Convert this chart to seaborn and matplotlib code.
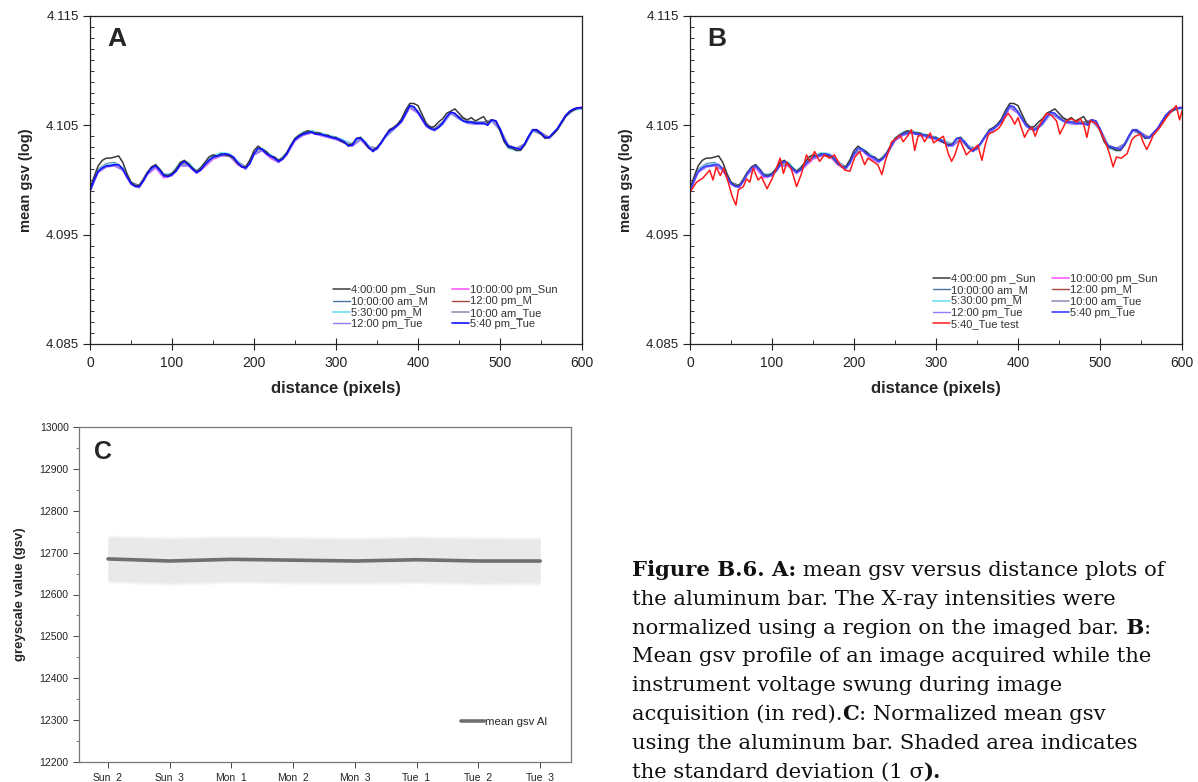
import numpy as np
import pandas as pd
import matplotlib
matplotlib.use("Agg")
import matplotlib.pyplot as plt
from matplotlib.ticker import MultipleLocator
import seaborn as sns

# ---------------- data ----------------
x5 = list(range(0, 601, 5))
x10 = list(range(0, 601, 10))

blue_540_tue = [4.0990, 4.1000, 4.1008, 4.1011, 4.1013, 4.1013, 4.1014, 4.1014, 4.1010, 4.1003,
                4.0997, 4.0994, 4.0994, 4.0999, 4.1006, 4.1011, 4.1013, 4.1009, 4.1004, 4.1003,
                4.1005, 4.1008, 4.1014, 4.1017, 4.1014, 4.1010, 4.1007, 4.1009, 4.1014, 4.1018,
                4.1021, 4.1022, 4.1023, 4.1024, 4.1023, 4.1021, 4.1016, 4.1012, 4.1011, 4.1015,
                4.1024, 4.1029, 4.1028, 4.1024, 4.1022, 4.1020, 4.1017, 4.1019, 4.1024, 4.1031,
                4.1037, 4.1040, 4.1042, 4.1043, 4.1044, 4.1042, 4.1042, 4.1041, 4.1040, 4.1039,
                4.1038, 4.1037, 4.1035, 4.1031, 4.1032, 4.1038, 4.1038, 4.1035, 4.1030, 4.1026,
                4.1029, 4.1034, 4.1040, 4.1045, 4.1047, 4.1050, 4.1054, 4.1061, 4.1068, 4.1067,
                4.1062, 4.1056, 4.1050, 4.1047, 4.1046, 4.1048, 4.1052, 4.1058, 4.1062, 4.1061,
                4.1057, 4.1054, 4.1053, 4.1053, 4.1052, 4.1052, 4.1052, 4.1050, 4.1055, 4.1054,
                4.1047, 4.1037, 4.1031, 4.1030, 4.1029, 4.1028, 4.1033, 4.1040, 4.1046, 4.1046,
                4.1043, 4.1039, 4.1039, 4.1043, 4.1047, 4.1053, 4.1059, 4.1063, 4.1065, 4.1066,
                4.1066]

black_400_sun = [4.0992, 4.1003, 4.1013, 4.1018, 4.1020, 4.1020, 4.1021, 4.1022, 4.1016, 4.1006,
                 4.0998, 4.0995, 4.0995, 4.1000, 4.1007, 4.1012, 4.1014, 4.1010, 4.1005, 4.1004,
                 4.1006, 4.1010, 4.1016, 4.1018, 4.1015, 4.1011, 4.1008, 4.1011, 4.1016, 4.1021,
                 4.1023, 4.1022, 4.1024, 4.1023, 4.1022, 4.1020, 4.1015, 4.1012, 4.1012, 4.1018,
                 4.1027, 4.1031, 4.1028, 4.1026, 4.1022, 4.1021, 4.1018, 4.1020, 4.1025, 4.1032,
                 4.1038, 4.1041, 4.1043, 4.1045, 4.1044, 4.1043, 4.1043, 4.1041, 4.1041, 4.1039,
                 4.1039, 4.1036, 4.1034, 4.1032, 4.1033, 4.1038, 4.1039, 4.1034, 4.1029, 4.1027,
                 4.1030, 4.1034, 4.1040, 4.1046, 4.1048, 4.1051, 4.1056, 4.1064, 4.1070, 4.1070,
                 4.1068, 4.1060, 4.1052, 4.1048, 4.1049, 4.1053, 4.1056, 4.1061, 4.1063, 4.1065,
                 4.1061, 4.1057, 4.1055, 4.1057, 4.1054, 4.1056, 4.1058, 4.1052, 4.1055, 4.1054,
                 4.1045, 4.1035, 4.1030, 4.1029, 4.1027, 4.1027, 4.1032, 4.1040, 4.1046, 4.1045,
                 4.1042, 4.1038, 4.1039, 4.1042, 4.1046, 4.1052, 4.1058, 4.1062, 4.1064, 4.1066,
                 4.1066]

magenta_1000_sun = [4.0991, 4.1007, 4.1012, 4.1013, 4.1009, 4.0996, 4.0993, 4.1005, 4.1011, 4.1002,
                    4.1004, 4.1013, 4.1013, 4.1006, 4.1012, 4.1019, 4.1022, 4.1022, 4.1014, 4.1010,
                    4.1023, 4.1027, 4.1020, 4.1016, 4.1023, 4.1036, 4.1041, 4.1043, 4.1041, 4.1039,
                    4.1037, 4.1034, 4.1031, 4.1037, 4.1029, 4.1028, 4.1039, 4.1046, 4.1053, 4.1066,
                    4.1061, 4.1049, 4.1045, 4.1051, 4.1061, 4.1056, 4.1052, 4.1051, 4.1051, 4.1054,
                    4.1046, 4.1030, 4.1028, 4.1032, 4.1045, 4.1042, 4.1038, 4.1046, 4.1058, 4.1065,
                    4.1067]

steel_1000_m = [4.0992, 4.1010, 4.1015, 4.1016, 4.1011, 4.0998, 4.0995, 4.1007, 4.1013, 4.1005,
                4.1006, 4.1015, 4.1015, 4.1008, 4.1015, 4.1022, 4.1024, 4.1023, 4.1017, 4.1012,
                4.1025, 4.1028, 4.1023, 4.1018, 4.1025, 4.1038, 4.1043, 4.1045, 4.1043, 4.1041,
                4.1039, 4.1036, 4.1033, 4.1038, 4.1031, 4.1029, 4.1040, 4.1047, 4.1055, 4.1068,
                4.1063, 4.1051, 4.1047, 4.1053, 4.1062, 4.1058, 4.1054, 4.1053, 4.1053, 4.1055,
                4.1047, 4.1032, 4.1029, 4.1033, 4.1046, 4.1043, 4.1039, 4.1047, 4.1059, 4.1065,
                4.1066]

brown_1200_m = [4.0992, 4.1009, 4.1014, 4.1015, 4.1010, 4.0997, 4.0995, 4.1007, 4.1014, 4.1004,
                4.1005, 4.1015, 4.1015, 4.1007, 4.1014, 4.1021, 4.1023, 4.1023, 4.1016, 4.1011,
                4.1024, 4.1028, 4.1022, 4.1017, 4.1024, 4.1037, 4.1042, 4.1044, 4.1042, 4.1040,
                4.1038, 4.1035, 4.1032, 4.1038, 4.1030, 4.1029, 4.1040, 4.1047, 4.1054, 4.1067,
                4.1062, 4.1050, 4.1046, 4.1052, 4.1062, 4.1057, 4.1053, 4.1052, 4.1052, 4.1055,
                4.1046, 4.1030, 4.1028, 4.1032, 4.1046, 4.1043, 4.1039, 4.1047, 4.1059, 4.1065,
                4.1066]

cyan_530_m = [4.0991, 4.1009, 4.1014, 4.1015, 4.1011, 4.0997, 4.0994, 4.1006, 4.1014, 4.1005,
              4.1006, 4.1016, 4.1016, 4.1008, 4.1015, 4.1022, 4.1025, 4.1024, 4.1017, 4.1010,
              4.1024, 4.1029, 4.1023, 4.1018, 4.1024, 4.1038, 4.1044, 4.1045, 4.1043, 4.1041,
              4.1039, 4.1036, 4.1033, 4.1039, 4.1031, 4.1028, 4.1039, 4.1046, 4.1054, 4.1067,
              4.1062, 4.1050, 4.1045, 4.1051, 4.1061, 4.1056, 4.1052, 4.1052, 4.1051, 4.1054,
              4.1046, 4.1029, 4.1027, 4.1032, 4.1045, 4.1042, 4.1038, 4.1046, 4.1058, 4.1064,
              4.1065]

gray_1000_tue = [4.0990, 4.1008, 4.1013, 4.1014, 4.1010, 4.0997, 4.0994, 4.1006, 4.1012, 4.1004,
                 4.1005, 4.1014, 4.1014, 4.1007, 4.1013, 4.1020, 4.1023, 4.1022, 4.1016, 4.1011,
                 4.1024, 4.1028, 4.1022, 4.1017, 4.1024, 4.1037, 4.1042, 4.1044, 4.1042, 4.1040,
                 4.1038, 4.1035, 4.1032, 4.1038, 4.1030, 4.1029, 4.1040, 4.1047, 4.1054, 4.1067,
                 4.1062, 4.1050, 4.1046, 4.1052, 4.1061, 4.1057, 4.1053, 4.1052, 4.1052, 4.1055,
                 4.1047, 4.1031, 4.1029, 4.1033, 4.1046, 4.1043, 4.1039, 4.1047, 4.1059, 4.1065,
                 4.1066]

violet_1200_tue = [4.0989, 4.1007, 4.1012, 4.1013, 4.1009, 4.0996, 4.0993, 4.1005, 4.1012, 4.1003,
                   4.1004, 4.1013, 4.1013, 4.1006, 4.1013, 4.1020, 4.1022, 4.1022, 4.1015, 4.1010,
                   4.1023, 4.1027, 4.1021, 4.1016, 4.1023, 4.1036, 4.1041, 4.1043, 4.1041, 4.1039,
                   4.1037, 4.1034, 4.1031, 4.1037, 4.1029, 4.1028, 4.1039, 4.1046, 4.1053, 4.1067,
                   4.1061, 4.1049, 4.1045, 4.1051, 4.1061, 4.1056, 4.1052, 4.1051, 4.1051, 4.1054,
                   4.1046, 4.1030, 4.1028, 4.1032, 4.1045, 4.1042, 4.1038, 4.1046, 4.1058, 4.1064,
                   4.1066]

red_x = [0, 8, 16, 24, 28, 32, 37, 41, 47, 51, 56, 59, 65, 69, 73, 77, 83, 87, 94, 100,
         106, 110, 114, 118, 124, 130, 136, 142, 146, 152, 158, 164, 170, 176, 183, 189, 195, 201, 207, 213,
         217, 223, 229, 234, 238, 246, 252, 256, 260, 266, 270, 274, 278, 282, 286, 293, 297, 303, 309, 315,
         319, 323, 329, 333, 337, 341, 347, 351, 356, 360, 364, 370, 376, 380, 384, 388, 392, 396, 400, 404,
         408, 412, 417, 421, 425, 429, 435, 441, 447, 451, 455, 459, 465, 472, 476, 480, 484, 488, 492, 496,
         502, 508, 512, 516, 520, 526, 533, 539, 543, 549, 553, 557, 561, 565, 573, 581, 587, 593, 597, 600]
red_test = [4.0989, 4.0998, 4.1002, 4.1009, 4.1000, 4.1012, 4.1004, 4.1011, 4.0997, 4.0986,
            4.0977, 4.0991, 4.0994, 4.1001, 4.0998, 4.1011, 4.1000, 4.1003, 4.0992, 4.1001,
            4.1012, 4.1020, 4.1006, 4.1016, 4.1009, 4.0994, 4.1006, 4.1023, 4.1017, 4.1026,
            4.1017, 4.1023, 4.1020, 4.1023, 4.1014, 4.1009, 4.1008, 4.1021, 4.1026, 4.1014,
            4.1020, 4.1017, 4.1014, 4.1005, 4.1017, 4.1035, 4.1038, 4.1041, 4.1035, 4.1041,
            4.1046, 4.1027, 4.1040, 4.1041, 4.1035, 4.1043, 4.1034, 4.1037, 4.1040, 4.1024,
            4.1017, 4.1023, 4.1037, 4.1030, 4.1023, 4.1026, 4.1029, 4.1032, 4.1018, 4.1032,
            4.1042, 4.1044, 4.1047, 4.1051, 4.1057, 4.1061, 4.1057, 4.1051, 4.1057, 4.1048,
            4.1039, 4.1045, 4.1048, 4.1040, 4.1048, 4.1054, 4.1061, 4.1059, 4.1054, 4.1042,
            4.1048, 4.1054, 4.1056, 4.1053, 4.1056, 4.1051, 4.1039, 4.1054, 4.1053, 4.1051,
            4.1042, 4.1032, 4.1023, 4.1012, 4.1021, 4.1020, 4.1024, 4.1037, 4.1040, 4.1042,
            4.1034, 4.1028, 4.1034, 4.1041, 4.1048, 4.1057, 4.1063, 4.1068, 4.1055, 4.1063]

days = ["Sun_2", "Sun_3", "Mon_1", "Mon_2", "Mon_3", "Tue_1", "Tue_2", "Tue_3"]
mean_gsv_al = [12685, 12680, 12684, 12682, 12680, 12683, 12680, 12680]
std_gsv_al = [51, 52, 51, 51, 51, 51, 52, 51]

# ---------------- style ----------------
sns.set_style("ticks")
plt.rcParams["font.family"] = ["Liberation Sans", "DejaVu Sans"]

W, H = 1198, 782
fig = plt.figure(figsize=(W / 100, H / 100), dpi=100)


def rect(l, t, r, b):
    return [l / W, 1 - b / H, (r - l) / W, (b - t) / H]


series_A = [
    ("4:00:00 pm _Sun", x5, black_400_sun, "#3a3a3a", 1.1),
    ("10:00:00 am_M", x10, steel_1000_m, "#4d74a8", 1.0),
    ("5:30:00 pm_M", x10, cyan_530_m, "#7ee6f2", 1.4),
    ("12:00 pm_Tue", x10, violet_1200_tue, "#8c7dff", 1.0),
    ("10:00:00 pm_Sun", x10, magenta_1000_sun, "#ff5cff", 1.2),
    ("12:00 pm_M", x10, brown_1200_m, "#a8443e", 1.0),
    ("10:00 am_Tue", x10, gray_1000_tue, "#9d92b8", 1.2),
    ("5:40 pm_Tue", x5, blue_540_tue, "#1010ff", 1.2),
]
draw_order = [4, 1, 5, 2, 6, 3, 0, 7]


def profile_axes(ax, letter, extra=None):
    handles = {}
    for i in draw_order:
        lab, xs, ys, col, lw = series_A[i]
        color = col
        if extra is not None and lab == "5:40 pm_Tue":
            color = "#3f3fff"
        sns.lineplot(x=xs, y=ys, ax=ax, color=color, lw=lw, label=lab, legend=False)
        handles[lab] = ax.get_lines()[-1]
    labels = [s[0] for s in series_A]
    hl = [handles[l] for l in labels]
    if extra is not None:
        lab, xs, ys, col, lw = extra
        sns.lineplot(x=xs, y=ys, ax=ax, color=col, lw=lw, label=lab, legend=False)
        hl = hl[:4] + [ax.get_lines()[-1]] + hl[4:]
        labels = labels[:4] + [lab] + labels[4:]
    ax.set_xlim(0, 600)
    ax.set_ylim(4.085, 4.115)
    ax.set_yticks([4.085, 4.095, 4.105, 4.115])
    ax.set_yticklabels(["4.085", "4.095", "4.105", "4.115"])
    ax.yaxis.set_minor_locator(MultipleLocator(0.001))
    ax.set_xticks([0, 100, 200, 300, 400, 500, 600])
    ax.xaxis.set_minor_locator(MultipleLocator(50))
    ax.tick_params(axis="y", which="major", direction="out", length=5, width=0.8,
                   labelsize=9.5, colors="#222222", pad=3)
    ax.tick_params(axis="y", which="minor", direction="in", length=3, width=0.7, colors="#333333")
    ax.tick_params(axis="x", which="major", direction="inout", length=9, width=0.8,
                   labelsize=10, colors="#222222", pad=4)
    ax.tick_params(axis="x", which="minor", direction="in", length=3, width=0.7, colors="#333333")
    for s in ax.spines.values():
        s.set_visible(True)
        s.set_color("#222222")
        s.set_linewidth(0.9)
    ax.set_xlabel("distance (pixels)", fontsize=12, fontweight="bold", labelpad=8)
    ax.set_ylabel("mean gsv (log)", fontsize=10.5, fontweight="bold", labelpad=9)
    ax.text(0.035, 0.93, letter, transform=ax.transAxes, fontsize=19, fontweight="bold",
            va="center", ha="left")
    leg = ax.legend(hl, labels, ncol=2, loc="lower right", bbox_to_anchor=(0.965, 0.025),
                    frameon=False, fontsize=8, handlelength=1.55, handletextpad=0.1,
                    columnspacing=1.5, labelspacing=0.12, borderaxespad=0.2)
    for t in leg.get_texts():
        t.set_color("#333333")
    return ax


axA = fig.add_axes(rect(90, 16, 582, 344))
profile_axes(axA, "A")

axB = fig.add_axes(rect(690, 16, 1182, 344))
profile_axes(axB, "B", extra=("5:40_Tue test", red_x, red_test, "#ff1a1a", 1.1))

# ---------------- panel C ----------------
axC = fig.add_axes(rect(79, 427, 571, 762))
pos = np.arange(len(days))
m = np.array(mean_gsv_al, dtype=float)
s = np.array(std_gsv_al, dtype=float)
for k in range(6, 0, -1):
    axC.fill_between(pos, m - s - k * 1.2, m + s + k * 1.2, color="#dcdcdc", alpha=0.08, lw=0)
axC.fill_between(pos, m - s, m + s, color="#e9e9e9", alpha=0.85, lw=0)
dfC = pd.DataFrame({"day": pos, "gsv": mean_gsv_al})
sns.lineplot(data=dfC, x="day", y="gsv", ax=axC, color="#6f6f6f", lw=2.6, label="mean gsv Al")
axC.set_xlim(-0.47, 7.5)
axC.set_ylim(12200, 13000)
axC.set_xticks(pos)
axC.set_xticklabels(days)
axC.set_yticks(range(12200, 13001, 100))
axC.yaxis.set_minor_locator(MultipleLocator(50))
axC.tick_params(axis="both", which="major", direction="out", length=4, width=0.7,
                labelsize=7.5, colors="#444444", labelcolor="#222222")
axC.tick_params(axis="y", which="minor", direction="out", length=2, width=0.6, colors="#666666")
for sp in axC.spines.values():
    sp.set_visible(True)
    sp.set_color("#777777")
    sp.set_linewidth(0.9)
axC.set_xlabel("")
axC.set_ylabel("greyscale value (gsv)", fontsize=9.5, fontweight="bold", labelpad=10)
axC.text(0.03, 0.925, "C", transform=axC.transAxes, fontsize=18, fontweight="bold",
         va="center", ha="left")
legC = axC.legend(loc="lower right", bbox_to_anchor=(0.96, 0.09), frameon=False,
                  fontsize=8.2, handlelength=2.0, handletextpad=0.05, borderaxespad=0)
legC.get_lines()[0].set_linewidth(2.6)

# ---------------- caption ----------------
cap = fig.add_axes([0, 0, 1, 1])
cap.axis("off")
cap.set_zorder(-1)
lines = [
    [("Figure B.6. A:", "bold"), (" mean gsv versus distance plots of", "normal")],
    [("the aluminum bar. The X-ray intensities were", "normal")],
    [("normalized using a region on the imaged bar.", "normal"), (" B", "bold"), (":", "normal")],
    [("Mean gsv profile of an image acquired while the", "normal")],
    [("instrument voltage swung during image", "normal")],
    [("acquisition (in red).", "normal"), ("C", "bold"), (": Normalized mean gsv", "normal")],
    [("using the aluminum bar. Shaded area indicates", "normal")],
    [("the standard deviation (1 σ", "normal"), (").", "bold")],
]
cap_font = ["DejaVu Serif"]
cap_size = 15.2
x0 = 632 / W
for i, parts in enumerate(lines):
    ybot = 1 - (580 + i * 28.8) / H
    prev = None
    for txt, wt in parts:
        if prev is None:
            prev = cap.text(x0, ybot, txt, transform=fig.transFigure, ha="left", va="bottom",
                            fontsize=cap_size, fontweight=wt, family=cap_font, color="#111111")
        else:
            prev = cap.annotate(txt, xy=(1, 0), xycoords=prev, ha="left", va="bottom",
                                fontsize=cap_size, fontweight=wt, family=cap_font, color="#111111")

fig.savefig("out.png", dpi=100, facecolor="white")
